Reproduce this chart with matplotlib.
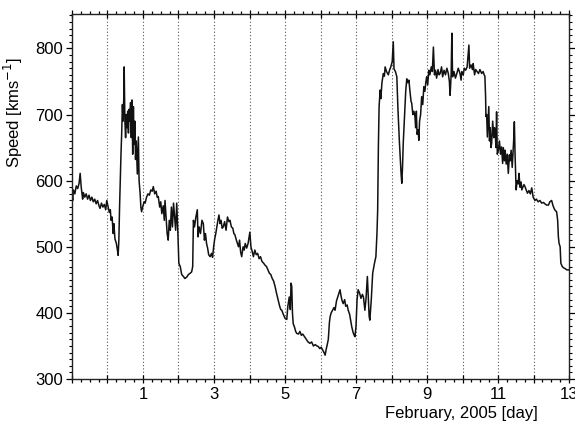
import matplotlib

matplotlib.use("Agg")
import matplotlib.pyplot as plt
from matplotlib.ticker import MultipleLocator

plt.rcParams["font.family"] = ["Liberation Sans", "DejaVu Sans"]

# Solar wind bulk speed, February 2005 (day of month, km/s)
day = [
    -1.00, -0.98, -0.96, -0.92, -0.88, -0.84, -0.80, -0.77, -0.74, -0.70,
    -0.68, -0.64, -0.60, -0.56, -0.52, -0.48, -0.44, -0.40, -0.36, -0.32,
    -0.28, -0.24, -0.21, -0.17, -0.13, -0.09, -0.05, -0.02, 0.02, 0.05,
    0.08, 0.10, 0.13, 0.16, 0.18, 0.21, 0.25, 0.28, 0.30, 0.32,
    0.34, 0.36, 0.38, 0.40, 0.42, 0.44, 0.46, 0.47, 0.49, 0.51,
    0.53, 0.55, 0.57, 0.59, 0.61, 0.63, 0.65, 0.67, 0.69, 0.71,
    0.73, 0.75, 0.77, 0.79, 0.81, 0.84, 0.87, 0.89, 0.92, 0.94,
    0.96, 0.99, 1.03, 1.06, 1.10, 1.14, 1.18, 1.22, 1.26, 1.29,
    1.33, 1.37, 1.40, 1.43, 1.47, 1.50, 1.53, 1.57, 1.60, 1.62,
    1.65, 1.68, 1.71, 1.74, 1.77, 1.80, 1.83, 1.86, 1.89, 1.92,
    1.95, 1.98, 2.01, 2.05, 2.09, 2.14, 2.18, 2.23, 2.28, 2.33,
    2.37, 2.40, 2.42, 2.45, 2.49, 2.53, 2.55, 2.58, 2.62, 2.66,
    2.70, 2.73, 2.76, 2.79, 2.82, 2.85, 2.89, 2.93, 2.96, 2.99,
    3.02, 3.05, 3.08, 3.11, 3.14, 3.17, 3.20, 3.23, 3.26, 3.30,
    3.34, 3.38, 3.42, 3.45, 3.49, 3.53, 3.56, 3.59, 3.63, 3.66,
    3.69, 3.72, 3.75, 3.78, 3.82, 3.85, 3.88, 3.92, 3.96, 4.01,
    4.04, 4.08, 4.11, 4.15, 4.19, 4.23, 4.27, 4.31, 4.35, 4.40,
    4.44, 4.48, 4.52, 4.56, 4.60, 4.64, 4.68, 4.72, 4.76, 4.81,
    4.85, 4.88, 4.91, 4.95, 5.00, 5.05, 5.08, 5.12, 5.15, 5.17,
    5.19, 5.21, 5.23, 5.27, 5.30, 5.33, 5.38, 5.42, 5.46, 5.50,
    5.55, 5.60, 5.65, 5.70, 5.75, 5.80, 5.85, 5.90, 5.94, 5.98,
    6.02, 6.06, 6.10, 6.13, 6.16, 6.19, 6.22, 6.25, 6.27, 6.30,
    6.34, 6.38, 6.41, 6.45, 6.49, 6.52, 6.55, 6.58, 6.61, 6.64,
    6.68, 6.71, 6.75, 6.78, 6.82, 6.85, 6.88, 6.92, 6.95, 6.97,
    7.00, 7.03, 7.06, 7.10, 7.14, 7.18, 7.21, 7.25, 7.28, 7.32,
    7.35, 7.37, 7.39, 7.43, 7.47, 7.52, 7.56, 7.59, 7.61, 7.63,
    7.65, 7.68, 7.70, 7.73, 7.77, 7.80, 7.82, 7.86, 7.91, 7.95,
    7.98, 8.02, 8.05, 8.07, 8.11, 8.15, 8.18, 8.22, 8.25, 8.27,
    8.29, 8.31, 8.33, 8.36, 8.40, 8.43, 8.46, 8.49, 8.52, 8.55,
    8.57, 8.60, 8.63, 8.66, 8.68, 8.70, 8.72, 8.75, 8.77, 8.79,
    8.82, 8.85, 8.88, 8.91, 8.94, 8.97, 8.99, 9.02, 9.05, 9.08,
    9.12, 9.15, 9.18, 9.21, 9.24, 9.27, 9.31, 9.34, 9.37, 9.41,
    9.44, 9.48, 9.52, 9.56, 9.60, 9.63, 9.65, 9.68, 9.70, 9.72,
    9.76, 9.80, 9.84, 9.88, 9.93, 9.96, 9.98, 10.02, 10.05, 10.09,
    10.13, 10.18, 10.20, 10.24, 10.28, 10.30, 10.34, 10.37, 10.41, 10.45,
    10.49, 10.54, 10.58, 10.61, 10.63, 10.65, 10.66, 10.68, 10.70, 10.72,
    10.74, 10.76, 10.78, 10.80, 10.82, 10.85, 10.88, 10.90, 10.92, 10.94,
    10.96, 10.98, 11.01, 11.04, 11.07, 11.10, 11.13, 11.15, 11.18, 11.20,
    11.23, 11.26, 11.29, 11.32, 11.34, 11.37, 11.40, 11.44, 11.46, 11.48,
    11.51, 11.54, 11.57, 11.59, 11.62, 11.65, 11.67, 11.70, 11.73, 11.76,
    11.80, 11.83, 11.87, 11.91, 11.95, 11.99, 12.04, 12.08, 12.13, 12.18,
    12.23, 12.28, 12.32, 12.37, 12.42, 12.46, 12.51, 12.55, 12.58, 12.61,
    12.65, 12.68, 12.70, 12.72, 12.75, 12.77, 12.81, 12.85, 12.89, 12.94,
    13.00,
]
speed = [
    578, 570, 586, 580, 592, 588, 596, 611, 590, 572,
    582, 575, 580, 572, 578, 570, 575, 568, 572, 565,
    570, 562, 558, 566, 560, 564, 556, 570, 560, 552,
    556, 540, 545, 520, 535, 512, 505, 495, 487, 510,
    560, 600, 640, 672, 715, 690, 728, 772, 690, 665,
    700, 680, 705, 672, 708, 690, 718, 665, 722, 640,
    712, 655, 690, 632, 660, 610, 666, 600, 580, 560,
    553, 560, 568, 566, 575, 580, 578, 586, 584, 591,
    580, 584, 575, 576, 560, 568, 550, 562, 540, 570,
    545, 520, 510, 540, 525, 560, 530, 566, 545, 525,
    566, 525, 475, 470, 458, 455, 452, 454, 458, 460,
    462, 470, 540, 530, 545, 556, 515, 530, 520, 540,
    535, 510, 520, 505, 498, 488, 485, 490, 484, 500,
    512, 520, 530, 540, 548, 535, 540, 528, 530, 538,
    525, 545, 538, 540, 530, 528, 520, 518, 510, 505,
    500, 510, 492, 485, 500, 495, 505, 498, 505, 522,
    500, 492, 485, 495, 488, 490, 482, 485, 478, 475,
    472, 470, 465, 460, 458, 452, 448, 440, 430, 419,
    410, 405, 404, 398, 392, 390, 410, 424, 405, 445,
    440, 400, 384, 378, 372, 369, 368, 372, 366, 368,
    364, 360, 356, 354, 356, 350, 352, 350, 349, 346,
    348, 344, 340, 336, 345, 352, 360, 385, 394, 400,
    404, 408, 404, 418, 425, 430, 435, 425, 418, 414,
    420, 410, 412, 404, 398, 388, 379, 370, 366, 364,
    380, 420, 435, 430, 422, 428, 424, 404, 420, 455,
    420, 395, 389, 420, 460, 475, 485, 520, 555, 650,
    712, 737, 724, 748, 762, 758, 772, 765, 760, 768,
    772, 780, 810, 769, 765, 757, 710, 661, 630, 610,
    596, 620, 656, 690, 735, 754, 748, 752, 735, 720,
    717, 700, 705, 697, 680, 705, 670, 677, 661, 690,
    700, 727, 715, 742, 735, 750, 757, 745, 767, 760,
    772, 765, 802, 760, 767, 755, 768, 760, 762, 772,
    757, 767, 760, 770, 762, 750, 729, 760, 823, 757,
    765, 755, 762, 770, 762, 752, 765, 760, 770, 767,
    772, 805, 770, 775, 768, 777, 760, 768, 765, 762,
    768, 762, 765, 760, 758, 727, 697, 700, 666, 690,
    712, 660, 680, 650, 656, 690, 665, 680, 677, 650,
    704, 640, 646, 660, 640, 651, 626, 650, 630, 646,
    625, 640, 611, 639, 630, 646, 620, 660, 689, 640,
    586, 600, 595, 611, 590, 598, 586, 590, 594, 591,
    585, 581, 585, 580, 589, 575, 570, 572, 568, 570,
    566, 567, 565, 563, 563, 568, 570, 562, 558, 555,
    553, 540, 515, 505, 500, 475, 470, 468, 467, 465,
    465,
]

midnights = list(range(0, 13))
tick_days = [1, 3, 5, 7, 9, 11, 13]
tick_labels = ["1", "3", "5", "7", "9", "11", "13"]

fig = plt.figure(figsize=(5.75, 4.23), dpi=100)
ax = fig.add_axes([0.1252, 0.1040, 0.8644, 0.8629])

for d in midnights:
    ax.axvline(d, color="#555555", linestyle=(0, (1, 2)), linewidth=0.8, zorder=1)

ax.plot(day, speed, color="#111111", linewidth=1.1, zorder=2)

ax.set_xlim(-1, 13)
ax.set_ylim(300, 852)

# every day gets a major tick, only odd days are labelled
all_days = list(range(-1, 14))
ax.set_xticks(all_days)
ax.set_xticklabels([tick_labels[tick_days.index(d)] if d in tick_days else "" for d in all_days])
ax.xaxis.set_minor_locator(MultipleLocator(0.25))
ax.yaxis.set_major_locator(MultipleLocator(100))
ax.yaxis.set_minor_locator(MultipleLocator(10))
ax.set_yticks([300, 400, 500, 600, 700, 800])

ax.tick_params(axis="x", which="major", direction="inout", length=6, width=0.9,
               top=True, labelsize=12, pad=3)
ax.tick_params(axis="x", which="minor", direction="out", length=2.5, width=0.9, top=True)
ax.tick_params(axis="y", which="major", direction="out", length=4.5, width=0.9,
               right=True, labelsize=12, pad=2)
ax.tick_params(axis="y", which="minor", direction="out", length=2.2, width=0.8, right=True)

for side in ax.spines.values():
    side.set_linewidth(1.0)
    side.set_color("#222222")

ax.set_ylabel("Speed [kms$^{-1}$]", fontsize=12, labelpad=4)
ax.yaxis.set_label_coords(-0.095, 0.73)
ax.set_xlabel("February, 2005 [day]", fontsize=12, labelpad=1)
ax.xaxis.set_label_coords(0.938, -0.075)
ax.xaxis.label.set_horizontalalignment("right")

fig.savefig("out.png", dpi=100)
